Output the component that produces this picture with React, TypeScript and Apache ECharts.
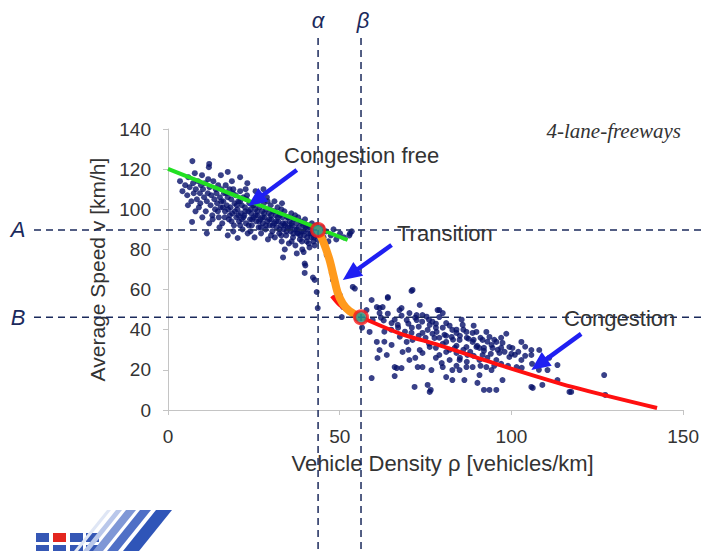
import React, { useEffect, useRef } from "react";
import * as echarts from "echarts";

// ---- Data ----
const xTicks = [0, 50, 100, 150];
const yTicks = [0, 20, 40, 60, 80, 100, 120, 140];

const freeFlowPoints: number[][] = [
  [3.5,114],[4.2,109],[5.0,112],[5.6,107],[5.9,116],
  [6.3,111],[6.8,104],[7.1,124],[7.3,113],[7.8,118],[7.5,108],
  [8.1,110],[8.4,105],[8.7,114],[9.0,101],[9.3,108],[9.6,112],[9.9,117],[9.4,103],
  [10.2,110],[10.5,106],[10.8,113],[11.0,99],[11.3,104],[11.6,108],[11.3,88],[11.9,121],[11.7,115],
  [12.1,111],[12.4,102],[12.6,107],[12.9,97],[13.2,114],[13.5,105],[13.7,100],[13.9,110],[12.0,122.6],
  [14.1,108],[14.3,103],[14.6,112],[14.8,96],[15.1,106],[15.3,101],[15.6,110],[15.8,93],[15.4,117],
  [16.1,104],[16.3,108],[16.6,99],[16.8,112],[17.1,102],[17.4,87],[17.4,106],[17.7,95],[17.9,110],[17.4,118.6],
  [18.2,101],[18.4,105],[18.7,98],[18.9,108],[19.2,92],[19.4,103],[19.7,107],[19.9,96],[18.6,114],
  [20.2,100],[20.3,85.7],[20.5,104],[20.7,94],[21.0,109],[21.2,98],[21.5,102],[21.7,90],[21.9,106],[21.0,116],
  [22.2,97],[22.4,101],[22.7,93],[22.9,105],[23.2,88],[23.4,99],[23.7,103],[23.9,95],[22.6,110],[23.1,113],
  [24.2,98],[24.4,92],[24.7,102],[24.9,96],[25.2,86],[25.4,100],[25.7,94],[25.9,104],[25.5,109],
  [26.1,97],[26.4,91],[26.6,101],[26.9,95],[27.1,88],[27.4,99],[27.6,93],[27.9,103],[26.7,107],[27.8,110],
  [28.1,96],[28.4,90],[28.6,100],[28.9,94],[29.1,85],[29.4,98],[29.6,92],[29.9,102],[28.8,106],
  [30.1,95],[30.4,89],[30.6,99],[30.9,93],[31.1,86],[31.4,97],[31.6,91],[31.9,101],[31.0,104],
  [32.1,94],[32.4,88],[32.6,97],[32.9,92],[33.1,84],[33.4,96],[33.5,76],[33.7,90],[33.9,99],[33.2,103],
  [34.0,80],[34.2,93],[34.4,87],[34.7,96],[34.9,91],[35.2,83],[35.4,94],[35.7,89],[35.9,98],
  [36.1,92],[36.4,86],[36.6,95],[36.9,90],[37.1,82],[37.5,78],[37.4,93],[37.6,88],[37.9,96],
  [38.1,91],[38.4,85],[38.6,94],[38.9,89],[39.1,80],[39.4,92],[39.6,87],[39.9,95],[40.0,72],
  [40.2,90],[40.4,84],[40.7,92],[40.9,88],[41.2,81],[41.4,91],[41.7,86],[41.9,93],
  [42.2,89],[42.4,84],[42.7,91],[42.9,87],[43.2,92],[43.5,85],
  [44.3,88],[44.8,91],[45.3,86],[46.0,89],[46.7,84],[47.4,87],[48.2,90],[49.0,85],[50.1,88],[51.2,86],[52.8,87],[53.5,89],
  [14.5,99],[15.5,104],[16.5,96],[17.5,100],[18.5,94],[19.5,99],[20.5,97],[21.5,95],[22.5,99],[23.5,92],
  [24.5,95],[25.5,97],[26.5,94],[27.5,96],[28.5,92],[29.5,95],[30.5,92],[31.5,94],[32.5,90],[33.5,93],
  [34.5,89],[35.5,91],[36.5,88],[37.5,90],[38.5,87],[39.5,89],[40.5,86],[41.5,88],[42.5,86],
  [16,101],[18,97],[20,102],[22,96],[24,100],[26,99],[28,98],[30,97],[32,96],[34,92],[36,93],[38,88],[40,91],[42,90],
  [17,108],[19,110],[21,104],[23,107],[25,102],[27,105],[29,104],[31,99],[33,100],[35,96],[37,97],[39,93],
  [13,95],[15,91],[19,89],[21,92],[24,89],[27,91],[30,87],[33,87],[36,84],[39,84],[41,83],
  [8,99],[10,96],[12,93],[7,93.7],[5.8,102]
];

const transitionPoints: number[][] = [
  [39.5,78.7],[39.8,73],[39.8,68.3],[42.7,64.8],[42.2,66],[43.3,58.8],[43.6,50.8],[42.7,82],
  [48,64.8],[49,56.3],[53.8,61.3],[54.4,60.5],[53,88],[51,51.3],[50,57.3],[47.7,68.3],[46.2,77.2],
  [50.6,46.3],[55,45.8],[57.8,49.8]
];

const congestedPoints: number[][] = [
  [70.9,59.3],[64,56.3],[59.3,54.8],[62.5,51.3],[73.3,52.3],[67.4,49.8],[70.3,48.3],[78.5,49.8],[80,48.3],
  [72.4,44.8],[76.2,42.4],[81,43.3],[85.8,42.4],[78.2,38.9],[74.1,38.4],[82.6,36.4],[84,38.4],[88.7,38.4],
  [92.7,38.9],[91.6,34.9],[95.6,33.9],[99.4,31.4],[102.9,33.9],[90.7,30.9],[86.9,31.4],[69.5,33.9],[65.1,32.4],
  [61.6,29.9],[68.3,28.9],[61,25.9],[66.6,20.9],[68,20.9],[66,16.9],[59.3,15.9],[72.7,21.4],[80,21.4],
  [81,16.4],[82.8,14.9],[71.8,11.5],[75.6,12.5],[76.2,9],[86.3,14.9],[90.7,17.4],[90.1,13.5],[93.6,10],
  [95.6,10],[97.4,14.9],[94.2,19.9],[101.5,21.4],[102.9,24.9],[105.8,29.9],[108.1,29.9],[105.8,27.4],
  [105.8,11.5],[106.2,11],[109,12.5],[110.5,19.9],[113.4,22.4],[113.4,14.9],[116.9,9],[127,17.4],[127.3,7.5],
  [92.7,21.4],[88.7,21.4],[84,28.4],[82,24.9],[84.9,24.9],[79.7,23.4],[74.1,28.4],[76.2,31.4],[96.5,28.4],
  [99.4,26.4],[95.6,24.9],[91.6,27.4],[87.2,27.4],[94.5,30.9],[88.7,33.9],[84.9,34.9],[81,33.9],[77.6,35.9],
  [75.6,39.9],[74.1,47.3],[75.3,46.5],[79,46.3],[72.4,47.3],[69.5,44.8],[66.9,42.4],[65.1,43.3],[61.6,48.3],
  [59.6,44.8],[58.7,38.9],[62.8,44.6],[70.9,38.4],[71.2,34.9],[82.8,39.9],[86.9,38.9],[89.8,38.9],[93.6,36.4],
  [94.2,32.4],[97.4,33.4],[100.3,30.9],[89.8,31.4],[90.7,24.9],[84.9,19.9],[86.9,21.4],[82.8,19.9],[76.7,19.9],
  [74.1,21.4],[70.3,24.9],[66,21.4],[63.7,27.4],[73.3,29.9],[81,28.9],[79,27.4],[60.8,33.9],[60.8,51.3],
  [61.6,50.8],[71.2,59.8],[79,49.8],[64,55.8],[68,50.8],[76.5,10],[92,10],
  [117.4,9],[78,41],[80.5,37.5],[87.5,35.5],[83.5,31],[92,29.5],[97,36],[101,27.5],[85.5,45],[77,44],[73,41.5],
  [89,42],[98.5,38],[104,31.5],[111,26],[63,39],[67.5,36.5],[56.5,41],
  [62,46],[64,48],[66,45],[68,47],[70,43],[72,46],[74,44],[76,45],[78,43],[80,41],[82,42],[84,40],[86,40],
  [65,40],[67,41],[69,39],[71,41],[73,37],[75,36],[77,38],[79,36],[81,37],[83,35],[85,37],[87,36],[89,35],
  [91,36],[93,34],[95,35],[97,31],[76,33],[78,31],[80,33],[82,30],[84,32],[86,30],[88,29],[90,32],[92,31],
  [94,28],[96,30],[98,29],[100,28],[102,29],[104,27],[85,26],[87,24],[89,27],[91,22],[93,26],[95,22],
  [97,23],[99,22],[103,21],[106,23],[108,20],[63,34],[70,30],[72,26],[78,26],[84,22]
];

const greenLine: number[][] = [[0, 120.1], [52.3, 84.7]];
const orangeCurve: number[][] = [
  [43.7,89.5],[45.4,83],[47,75],[48.3,66],[49.4,58.5],[50.9,53],[52.9,49.2],[56.2,46.2]
];
const redCurve: number[][] = [
  [47.7,56.8],[50,52.3],[52.9,48.8],[56.2,46.2],[67.4,38.2],[79.1,32.2],[98.5,21.4],[117.7,11.5],[142.4,1]
];
const criticalPoints: number[][] = [[43.7, 89.7], [56.2, 46.2]];

const ALPHA = 43.7;
const BETA = 56.2;
const LEVEL_A = 89.7;
const LEVEL_B = 46.2;

// arrow annotations in data coordinates: [tail, tip]
const arrows: number[][][] = [
  [[37.5, 119.6], [23.3, 101.6]],
  [[65.1, 82.2], [50.9, 64.8]],
  [[120.3, 37.9], [105.8, 19.9]]
];

const FONT = "'Liberation Sans', Arial, sans-serif";
const NAVY = "#1b2a5c";
const DOT = "#08116a";
const ARROW = "#1f1ff2";

export default function App() {
  const ref = useRef<HTMLDivElement>(null);

  useEffect(() => {
    if (!ref.current) return;
    const chart = echarts.init(ref.current, null, { renderer: "svg" });
    const dotSeries = (data: number[][]) => ({
      type: "scatter", data, symbol: "circle", symbolSize: 6,
      itemStyle: { color: DOT }, z: 2,
    });
    const option: any = {
      animation: false,
      grid: { left: 168, right: 18, top: 129, bottom: 141 },
      xAxis: {
        type: "value",
        min: xTicks[0],
        max: xTicks[xTicks.length - 1],
        interval: 50,
        axisLine: { show: true, lineStyle: { color: "#c4c4c4", width: 1 } },
        axisTick: { show: true, length: 5, lineStyle: { color: "#c4c4c4" } },
        splitLine: { show: false },
        axisLabel: { fontSize: 19, color: "#333", fontFamily: FONT, margin: 17 },
        name: "Vehicle Density ρ [vehicles/km]",
        nameLocation: "middle",
        nameGap: 42,
        nameTextStyle: { fontSize: 22, color: "#333", fontFamily: FONT, padding: [0, 0, 0, 34] },
      },
      yAxis: {
        type: "value",
        min: yTicks[0],
        max: yTicks[yTicks.length - 1],
        interval: 20,
        axisLine: { show: true, lineStyle: { color: "#c4c4c4", width: 1 } },
        axisTick: { show: true, length: 5, lineStyle: { color: "#c4c4c4" } },
        splitLine: { show: false },
        axisLabel: { fontSize: 19, color: "#333", fontFamily: FONT, margin: 17 },
        name: "Average Speed v [km/h]",
        nameLocation: "middle",
        nameRotate: 90,
        nameGap: 55,
        nameTextStyle: { fontSize: 21, color: "#333", fontFamily: FONT },
      },
      series: [
        dotSeries(freeFlowPoints),
        dotSeries(transitionPoints),
        dotSeries(congestedPoints),
        {
          type: "line", data: greenLine, showSymbol: false, symbol: "none",
          lineStyle: { color: "#22e022", width: 4 }, z: 5,
        },
        {
          type: "line", data: orangeCurve, showSymbol: false, symbol: "none", smooth: 0.3,
          lineStyle: { color: "#ff9a1c", width: 8, cap: "round" }, z: 6,
        },
        {
          type: "line", data: redCurve, showSymbol: false, symbol: "none", smooth: 0.3,
          lineStyle: { color: "#ff1010", width: 4 }, z: 5,
        },
        {
          type: "scatter", data: criticalPoints, symbol: "circle", symbolSize: 13,
          itemStyle: { color: "#1f9a96", borderColor: "#ff1a1a", borderWidth: 3 }, z: 30,
        },
      ],
    };
    chart.setOption(option);

    const px = (p: number[]) => chart.convertToPixel({ gridIndex: 0 }, p) as number[];
    const ax = px([ALPHA, 0])[0];
    const bx = px([BETA, 0])[0];
    const ay = px([0, LEVEL_A])[1];
    const by = px([0, LEVEL_B])[1];

    const dash = { stroke: NAVY, lineWidth: 1.5, lineDash: [7, 5] };
    const greek = { fontSize: 22, fontStyle: "italic", fontFamily: FONT, fill: NAVY, align: "center", verticalAlign: "middle" };
    const label = { fontSize: 22, fontFamily: FONT, fill: "#333", align: "left", verticalAlign: "middle" };
    const graphics: any[] = [
      { type: "line", z: 20, shape: { x1: ax, y1: 38, x2: ax, y2: 551 }, style: dash },
      { type: "line", z: 20, shape: { x1: bx, y1: 38, x2: bx, y2: 551 }, style: dash },
      { type: "line", z: 20, shape: { x1: 34, y1: ay, x2: 702, y2: ay }, style: dash },
      { type: "line", z: 20, shape: { x1: 34, y1: by, x2: 702, y2: by }, style: dash },
      { type: "text", z: 20, x: ax, y: 20, style: { ...greek, text: "α" } },
      { type: "text", z: 20, x: bx + 2, y: 20, style: { ...greek, text: "β" } },
      { type: "text", z: 20, x: 18, y: ay, style: { ...greek, text: "A" } },
      { type: "text", z: 20, x: 18, y: by, style: { ...greek, text: "B" } },
      { type: "text", z: 20, x: 284, y: 155, style: { ...label, text: "Congestion free" } },
      { type: "text", z: 20, x: 397, y: 233, style: { ...label, text: "Transition" } },
      { type: "text", z: 20, x: 564, y: 318, style: { ...label, text: "Congestion" } },
      { type: "text", z: 20, x: 681, y: 131, style: { text: "4-lane-freeways", fontSize: 21, fontStyle: "italic", fontFamily: "'Liberation Serif', 'Times New Roman', serif", fill: "#333", align: "right", verticalAlign: "middle" } },
    ];

    arrows.forEach(([tail, tip]) => {
      const [x1, y1] = px(tail);
      const [x2, y2] = px(tip);
      const dx = x2 - x1, dy = y2 - y1;
      const L = Math.hypot(dx, dy);
      const ux = dx / L, uy = dy / L;
      const hl = 19, hw = 8.5;
      const hx = x2 - ux * hl, hy = y2 - uy * hl;
      const nx = -uy, ny = ux;
      graphics.push({ type: "line", z: 25, shape: { x1, y1, x2: hx + ux * 2, y2: hy + uy * 2 }, style: { stroke: ARROW, lineWidth: 4.5 } });
      graphics.push({ type: "polygon", z: 25, shape: { points: [[x2, y2], [hx + nx * hw, hy + ny * hw], [hx - nx * hw, hy - ny * hw]] }, style: { fill: ARROW } });
    });

    // logo (bottom-left decoration)
    const blue = "#3557b5";
    const sq = [[36, 533, blue], [53, 533, "#e3261f"], [70, 533, blue], [86, 533, blue], [36, 545, blue], [53, 545, blue], [70, 545, blue], [86, 545, blue]];
    sq.forEach(([x, y, c]) => graphics.push({ type: "rect", z: 1, shape: { x, y, width: 13, height: 9 }, style: { fill: c } }));
    const stripes = [[107, 4, "#dfe6f5"], [116, 6, "#b9c7ea"], [126, 10, "#7f97d6"], [140, 11, "#4f6fc6"], [156, 16, "#2f55b8"]];
    stripes.forEach(([x, w, c]) => graphics.push({
      type: "polygon", z: 1,
      shape: { points: [[x as number, 510], [(x as number) + (w as number), 510], [(x as number) + (w as number) - 33, 551], [(x as number) - 33, 551]] },
      style: { fill: c },
    }));

    chart.setOption({ graphic: graphics });
    return () => chart.dispose();
  }, []);

  return <div ref={ref} style={{ position: "absolute", left: 0, top: 0, width: 702, height: 551, background: "#fff" }} />;
}
